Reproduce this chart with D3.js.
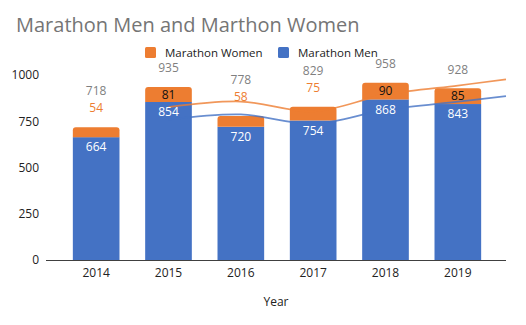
<!DOCTYPE html>
<html>
<head>
<meta charset="utf-8">
<script src="https://cdn.jsdelivr.net/npm/d3@7"></script>
<style>
  body { margin: 0; background: #fff; }
  svg { display: block; font-family: "Open Sans", sans-serif; }
</style>
</head>
<body>
<script>
var years = ["2014", "2015", "2016", "2017", "2018", "2019"];
var men = [664, 854, 720, 754, 868, 843];
var women = [54, 81, 58, 75, 90, 85];
var totals = [718, 935, 778, 829, 958, 928];
// two-period moving average trend lines, none for 2014
var menTrend = [null, 759, 787, 737, 811, 856];
var totalTrend = [null, 826.5, 856.5, 803.5, 893.5, 943];
var yTicks = [0, 250, 500, 750, 1000];

var W = 526, H = 325,
    margin = { top: 75, right: 20, bottom: 65, left: 46 },
    width = W - margin.left - margin.right,
    height = H - margin.top - margin.bottom;

var blue = "#4472C4", orange = "#ED7D31";

var svg = d3.select("body").append("svg")
    .attr("width", W)
    .attr("height", H);

svg.append("text")
    .attr("x", 16)
    .attr("y", 32)
    .style("font-size", "20px")
    .style("fill", "#757575")
    .text("Marathon Men and Marthon Women");

// legend
var legendItems = [
    { name: "Marathon Women", color: orange, x: 145 },
    { name: "Marathon Men", color: blue, x: 278 }
];
var legend = svg.append("g").attr("class", "legend");
legend.selectAll("rect")
    .data(legendItems)
    .enter().append("rect")
    .attr("x", d => d.x)
    .attr("y", 47)
    .attr("width", 11)
    .attr("height", 11)
    .attr("rx", 1.5)
    .style("fill", d => d.color);
legend.selectAll("text")
    .data(legendItems)
    .enter().append("text")
    .attr("x", d => d.x + 20)
    .attr("y", 52.5)
    .attr("dy", "0.35em")
    .style("font-size", "11.5px")
    .style("fill", "#222")
    .text(d => d.name);

var g = svg.append("g")
    .attr("transform", "translate(" + margin.left + "," + margin.top + ")");

var xScale = d3.scaleBand()
    .domain(years)
    .range([14, 448])
    .paddingInner(0.355)
    .paddingOuter(0.1775);
var yScale = d3.scaleLinear()
    .domain([0, 1000])
    .range([height, 0]);

// y axis labels only
var yAxis = g.append("g")
    .call(d3.axisLeft(yScale).tickValues(yTicks).tickFormat(d3.format("d")).tickSize(0).tickPadding(7));
yAxis.select(".domain").remove();
yAxis.selectAll("text").style("font-size", "12px").style("fill", "#222").style("font-family", "'Open Sans', sans-serif");

// x axis
var xAxis = g.append("g")
    .attr("transform", "translate(0," + height + ")")
    .call(d3.axisBottom(xScale).tickSize(0).tickPadding(8));
xAxis.select(".domain").remove();
xAxis.selectAll("text").style("font-size", "12px").style("fill", "#222").style("font-family", "'Open Sans', sans-serif");

g.append("text")
    .attr("x", width / 2)
    .attr("y", height + 46)
    .attr("text-anchor", "middle")
    .style("font-size", "12px")
    .style("fill", "#222")
    .text("Year");

var bw = xScale.bandwidth();
var r = 3;

// men bars
g.selectAll(".men")
    .data(years)
    .enter().append("rect")
    .attr("class", "men")
    .attr("x", d => xScale(d))
    .attr("y", (d, i) => yScale(men[i]))
    .attr("width", bw)
    .attr("height", (d, i) => height - yScale(men[i]))
    .style("fill", blue);

// women bars stacked on top, rounded top corners
g.selectAll(".women")
    .data(years)
    .enter().append("path")
    .attr("class", "women")
    .attr("d", (d, i) => {
        var x0 = xScale(d), x1 = x0 + bw,
            y0 = yScale(men[i] + women[i]), y1 = yScale(men[i]);
        return "M" + x0 + "," + y1 +
            "V" + (y0 + r) +
            "Q" + x0 + "," + y0 + " " + (x0 + r) + "," + y0 +
            "H" + (x1 - r) +
            "Q" + x1 + "," + y0 + " " + x1 + "," + (y0 + r) +
            "V" + y1 + "Z";
    })
    .style("fill", orange);

// axis baseline
g.append("line")
    .attr("x1", 0)
    .attr("x2", width)
    .attr("y1", height + 0.5)
    .attr("y2", height + 0.5)
    .style("stroke", "#404040")
    .style("stroke-width", 1);

// trend lines, continued past the last category to the plot edge
var line = d3.line()
    .x(d => d.x)
    .y(d => yScale(d.v))
    .curve(d3.curveCatmullRom.alpha(0));

function trendPoints (vals) {
    var pts = [];
    vals.forEach((v, i) => {
        if (v !== null) pts.push({ x: xScale(years[i]) + bw / 2, v: v });
    });
    var a = pts[pts.length - 2], b = pts[pts.length - 1];
    var slope = (b.v - a.v) / (b.x - a.x);
    pts.push({ x: width, v: b.v + slope * (width - b.x) });
    return pts;
}

g.append("path")
    .attr("d", line(trendPoints(totalTrend)))
    .style("fill", "none")
    .style("stroke", orange)
    .style("stroke-opacity", 0.8)
    .style("stroke-width", 1.75);
g.append("path")
    .attr("d", line(trendPoints(menTrend)))
    .style("fill", "none")
    .style("stroke", blue)
    .style("stroke-opacity", 0.8)
    .style("stroke-width", 1.75);

// data labels
var cx = d => xScale(d) + bw / 2;

g.selectAll(".menLabel")
    .data(years)
    .enter().append("text")
    .attr("x", cx)
    .attr("y", (d, i) => yScale(men[i]) + 10)
    .attr("dy", "0.35em")
    .attr("text-anchor", "middle")
    .style("font-size", "12px")
    .style("fill", "#fff")
    .text((d, i) => men[i]);

// small women values sit above the bar in orange, larger ones inside
var inside = i => women[i] >= 80;

g.selectAll(".womenLabel")
    .data(years)
    .enter().append("text")
    .attr("x", cx)
    .attr("y", (d, i) => inside(i)
        ? (yScale(men[i]) + yScale(men[i] + women[i])) / 2
        : yScale(totals[i]) - 19)
    .attr("dy", "0.35em")
    .attr("text-anchor", "middle")
    .style("font-size", "12px")
    .style("fill", (d, i) => inside(i) ? "#111" : orange)
    .text((d, i) => women[i]);

g.selectAll(".totalLabel")
    .data(years)
    .enter().append("text")
    .attr("x", cx)
    .attr("y", (d, i) => yScale(totals[i]) - (inside(i) ? 19 : 36))
    .attr("dy", "0.35em")
    .attr("text-anchor", "middle")
    .style("font-size", "12px")
    .style("fill", "#7f7f7f")
    .text((d, i) => totals[i]);
</script>
</body>
</html>
